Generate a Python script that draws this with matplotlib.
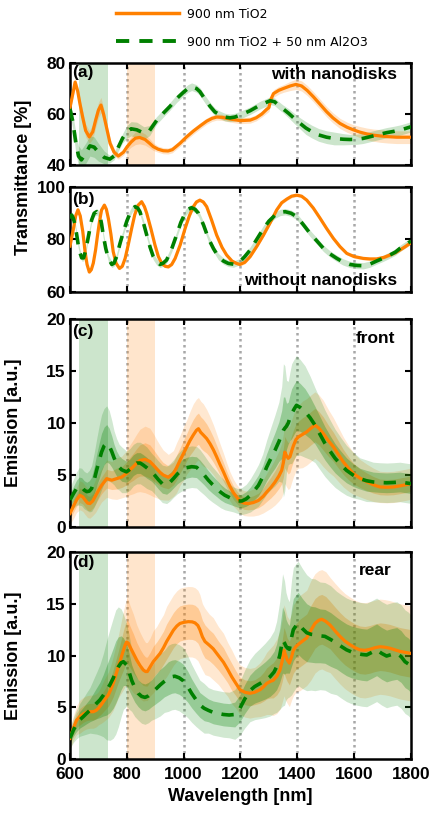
import numpy as np
import matplotlib
matplotlib.use("Agg")
import matplotlib.pyplot as plt
from matplotlib.lines import Line2D

# ---------------- data ----------------
# Panel (a): transmittance with nanodisks
a_or_wl = [600, 610, 618, 627, 635, 645, 655, 668, 680, 690, 700, 709, 718, 728, 741, 755, 770, 788,
           800, 815, 830, 845, 864, 880, 893, 910, 928, 945, 960, 987, 1010, 1034, 1060, 1081, 1100,
           1116, 1135, 1151, 1175, 1200, 1234, 1255, 1275, 1292, 1300, 1306, 1316, 1335, 1351, 1375,
           1395, 1415, 1435, 1456, 1480, 1503, 1525, 1550, 1575, 1597, 1620, 1644, 1668, 1691, 1720,
           1750, 1775, 1800]
a_or_T = [62.5, 68, 72.5, 69, 64, 58.5, 53.5, 51, 53, 57.5, 61.5, 63.5, 60, 55, 48.5, 45, 43.5, 45,
          47, 49, 50.5, 50.8, 50, 48.5, 47.2, 46.2, 45.6, 45.5, 46, 48.5, 51, 53.3, 55.5, 57.2, 58.3,
          58.8, 58.7, 58.3, 57.8, 57.4, 57.6, 58.5, 60, 61.8, 62.5, 65.5, 68, 69.3, 70, 71,
          71.6, 71, 69.2, 66.8, 63.8, 60.9, 58.5, 56.3, 54.8, 53.8, 52.9, 52.2, 51.7, 51.4, 51.1,
          50.9, 50.9, 50.9]
a_or_sd = [1.5, 1.8, 2.0, 2.0, 2.2, 2.5, 2.5, 2.5, 2.8, 3, 3, 3, 2.5, 2, 1.8, 1.5, 1.2, 1.2,
           1.5, 2, 2.5, 2.5, 2.2, 1.8, 1.5, 1.2, 1.2, 1.2, 1.2, 1.2, 1.2, 1.2, 1.2, 1.2, 1.2,
           1.2, 1.2, 1.2, 1.2, 1.2, 1.2, 1.2, 1.2, 1.5, 1.5, 1.5, 1.5, 1.5, 1.5, 1.8,
           2, 2, 2, 2, 2, 2, 2, 2, 2, 2, 2.2, 2.3, 2.4, 2.5, 2.5,
           2.5, 2.5, 2.5]

a_gr_wl = [600, 610, 620, 630, 640, 655, 670, 685, 700, 720, 740, 755, 770, 785, 800, 815, 835, 860,
           880, 905, 930, 952, 975, 999, 1015, 1028, 1045, 1057, 1075, 1093, 1110, 1128, 1145, 1163,
           1180, 1200, 1234, 1269, 1304, 1320, 1333, 1350, 1369, 1390, 1410, 1430, 1451, 1475, 1503,
           1530, 1562, 1585, 1609, 1630, 1656, 1685, 1715, 1740, 1761, 1780, 1800]
a_gr_T = [62, 57, 49, 43.5, 42, 44.5, 47.5, 47, 45, 43, 42.3, 43.5, 47, 50.5, 53, 54.2, 53.8, 52.5,
          53.5, 57.5, 60.5, 63, 66, 68.5, 70, 70.7, 70, 68.8, 65.8, 63, 60.8, 59.6, 58.8, 58.5,
          58.8, 59.6, 61.3, 63.5, 65.2, 64.8, 63.5, 62, 60.3, 58.2, 56.3, 54.5, 53.1, 51.8, 50.9,
          50.4, 50.1, 50, 50.1, 50.4, 51.1, 51.9, 52.7, 53.2, 53.7, 54.3, 55.0]
a_gr_sd = [2, 3, 4, 4, 4, 4, 4, 4, 3.5, 2.5, 1.5, 1.5, 1.5, 1.8, 2.5, 2.8, 3, 2.5,
           2, 1.5, 1.5, 1.5, 1.5, 1.5, 1.5, 1.5, 1.5, 1.5, 1.5, 1.5, 1.5, 1.5, 1.5, 1.5,
           1.5, 1.5, 1.5, 1.5, 1.5, 1.5, 1.5, 1.5, 1.8, 2, 2.2, 2.5, 2.5, 2.5, 2.5,
           2.5, 2.2, 2, 2, 2, 2, 2, 2, 2, 2, 2, 2]

# Panel (b): transmittance without nanodisks
b_or_wl = [600, 612, 620, 628, 636, 645, 653, 660, 668, 675, 682, 690, 697, 704, 711, 721, 728, 735,
           744, 752, 762, 774, 784, 794, 805, 817, 828, 840, 852, 862, 870, 885, 899, 911, 923, 935,
           946, 958, 970, 988, 1005, 1020, 1034, 1045, 1057, 1069, 1081, 1098, 1116, 1135, 1151,
           1170, 1186, 1198, 1215, 1234, 1258, 1281, 1305, 1327, 1345, 1363, 1380, 1398, 1415,
           1433, 1456, 1480, 1503, 1527, 1550, 1574, 1600, 1632, 1655, 1679, 1705, 1726, 1745,
           1761, 1780, 1800]
b_or_T = [77.5, 84, 89, 91.3, 89, 83, 75.4, 70.5, 67.6, 68.5, 71, 76, 81.7, 87, 91.2, 93.1, 91.5, 88,
          82, 75.4, 71, 69.0, 69.8, 72.8, 78, 84.2, 89.5, 93.1, 94.4, 92.5, 90, 84, 77.9, 73.5, 70.9, 69.8,
          69.6, 70.5, 72.8, 78, 84.2, 89, 92.5, 94.3, 95.0, 94.3, 92.5, 87.5, 81.7, 77, 74.1,
          71.8, 70.9, 70.5, 71.3, 73.5, 77.5, 81.7, 86.5, 91.2, 94, 95.4, 96.5, 96.9, 96.5,
          95.0, 92, 88.1, 84.2, 80.4, 77.3, 74.7, 73.5, 72.8, 72.6, 72.6, 73.2, 74.1, 75,
          76.0, 77.3, 78.8]
b_or_sd = [0.6] * len(b_or_wl)

b_gr_wl = [600, 606, 612, 618, 624, 629, 635, 641, 648, 653, 659, 668, 676, 685, 694, 705, 711, 717,
           726, 735, 747, 755, 764, 776, 788, 800, 811, 820, 829, 838, 846, 858, 870, 882, 893, 905,
           917, 928, 940, 958, 975, 990, 1005, 1017, 1028, 1040, 1052, 1070, 1087, 1105, 1122, 1140,
           1157, 1175, 1198, 1215, 1234, 1258, 1281, 1300, 1322, 1340, 1357, 1378, 1398, 1420, 1445,
           1470, 1492, 1515, 1539, 1560, 1585, 1610, 1632, 1655, 1679, 1703, 1726, 1745, 1761,
           1780, 1800]
b_gr_T = [88, 89.3, 88, 85.5, 81.5, 77.9, 75, 73, 73, 75, 77.9, 83, 87.4, 90, 90.6, 89.3, 86, 81.7,
          76.5, 72.8, 70.5, 71, 73.5, 78.5, 83.0, 87, 90.0, 91.8, 92.5, 92, 90.6, 86.5, 81.7, 77, 73.5, 71.5,
          70.5, 71, 72.2, 76.5, 81.7, 86.5, 90.0, 91.6, 92.1, 91.5, 90.0, 85.5, 80.4, 76.5, 73.5, 71.8,
          70.9, 70.6, 71.6, 73.5, 76.0, 80.2, 84.2, 87, 89.3, 90.3, 90.6, 90, 88.7, 85.8, 82.3,
          79.3, 76.6, 74.5, 72.8, 71.5, 70.5, 70.1, 70.0, 70.6, 71.8, 72.9, 74.1, 75.2, 76.6,
          78, 79.4]
b_gr_sd = [1.2] * len(b_gr_wl)

# Panel (c): front emission
c_or_wl = [600, 612, 623, 635, 645, 653, 662, 670, 680, 690, 700, 711, 729, 747, 764, 782, 799, 811,
           823, 835, 846, 864, 881, 895, 905, 917, 928, 946, 964, 975, 987, 1000, 1011, 1022, 1034,
           1045, 1052, 1060, 1069, 1081, 1093, 1105, 1116, 1128, 1140, 1151, 1163, 1175, 1186, 1198,
           1212, 1227, 1245, 1263, 1280, 1292, 1307, 1321, 1335, 1345, 1351, 1356, 1361, 1368, 1374,
           1380, 1386, 1395, 1403, 1418, 1433, 1448, 1462, 1476, 1491, 1509, 1527, 1545, 1562, 1580,
           1597, 1620, 1644, 1668, 1691, 1715, 1738, 1760, 1780, 1800]
c_or_E = [1.3, 2.0, 2.6, 3.05, 2.9, 2.6, 2.3, 2.25, 2.5, 3.0, 3.5, 4.0, 4.65, 4.5, 4.65, 4.8, 5.15, 5.5,
          5.8, 6.15, 6.4, 6.5, 6.3, 5.9, 5.6, 5.25, 5.0, 4.78, 5.15, 5.7, 6.4, 7.1, 7.7, 8.3, 8.85,
          9.3, 9.45, 9.1, 8.85, 8.5, 8.0, 7.4, 6.75, 6.0, 5.3, 4.6, 3.9, 3.3, 2.9, 2.5,
          2.3, 2.25, 2.35, 2.55, 2.95, 3.35, 3.8, 4.3, 4.9, 5.45, 6.2, 7.2, 6.9, 6.6, 6.75,
          7.3, 7.8, 8.4, 8.65, 8.9, 9.15, 9.5, 9.8, 9.5, 9.0, 8.3, 7.7, 6.95, 6.25, 5.65,
          5.15, 4.7, 4.35, 4.05, 3.85, 3.82, 3.85, 3.95, 4.05, 4.17]
c_or_sd = [0.5, 0.6, 0.6, 0.7, 0.7, 0.7, 0.7, 0.7, 0.7, 0.8, 0.8, 0.8, 0.9, 0.9, 1.0, 1.0, 1.1, 1.2,
           1.3, 1.4, 1.5, 1.6, 1.6, 1.5, 1.4, 1.3, 1.2, 1.1, 1.1, 1.2, 1.2, 1.3, 1.3, 1.4, 1.5,
           1.5, 1.5, 1.5, 1.5, 1.4, 1.3, 1.2, 1.1, 1.0, 0.9, 0.8, 0.7, 0.65, 0.6, 0.6,
           0.6, 0.6, 0.65, 0.7, 0.8, 0.9, 1.0, 1.1, 1.2, 1.3, 1.4, 1.5, 1.5, 1.5, 1.5,
           1.5, 1.5, 1.5, 1.5, 1.6, 1.6, 1.6, 1.6, 1.6, 1.6, 1.5, 1.4, 1.3, 1.2, 1.1,
           1.0, 0.9, 0.85, 0.8, 0.75, 0.75, 0.75, 0.75, 0.75, 0.75]

c_gr_wl = [600, 612, 623, 632, 641, 650, 659, 668, 676, 685, 694, 703, 711, 720, 729, 738, 747, 755,
           764, 773, 782, 799, 811, 823, 835, 847, 858, 870, 887, 899, 911, 925, 940, 952, 964, 978,
           993, 1010, 1028, 1045, 1057, 1072, 1087, 1101, 1116, 1130, 1145, 1160, 1175, 1190, 1205,
           1220, 1235, 1250, 1263, 1278, 1292, 1307, 1321, 1335, 1345, 1351, 1356, 1362, 1368, 1374,
           1380, 1390, 1397, 1410, 1427, 1445, 1462, 1480, 1497, 1515, 1533, 1553, 1573, 1596,
           1620, 1643, 1667, 1690, 1714, 1738, 1761, 1780, 1800]
c_gr_E = [2.6, 3.2, 3.7, 3.9, 3.85, 3.55, 3.4, 3.45, 3.7, 4.5, 5.5, 6.4, 7.2, 7.8, 8.05, 7.8, 7.25, 6.65,
          6.1, 5.75, 5.5, 5.3, 5.55, 5.95, 6.15, 6.15, 5.95, 5.7, 5.3, 4.95, 4.55, 4.15, 4.05, 4.3, 4.65, 5.1,
          5.45, 5.7, 5.8, 5.75, 5.45, 5.0, 4.5, 4.1, 3.72, 3.35, 3.05, 2.85, 2.65, 2.5, 2.5,
          2.7, 3.05, 3.55, 4.0, 4.8, 5.75, 6.6, 7.35, 8.2, 8.9, 9.3, 9.5, 9.7, 10.0, 10.5,
          10.9, 11.4, 11.7, 11.5, 11.1, 10.5, 9.8, 8.9, 8.05, 7.3, 6.6, 6.0, 5.45, 5.0,
          4.65, 4.45, 4.33, 4.28, 4.25, 4.28, 4.33, 4.25, 4.17]
c_gr_sd = [0.6, 0.7, 0.8, 0.9, 0.9, 0.9, 0.9, 1.0, 1.1, 1.3, 1.5, 1.7, 1.8, 1.8, 1.8, 1.7, 1.5, 1.3,
           1.2, 1.1, 1.1, 1.0, 1.0, 1.0, 1.0, 1.0, 1.0, 1.0, 0.9, 0.9, 0.9, 0.9, 0.9, 0.9, 0.9, 0.95,
           1.0, 1.0, 1.0, 1.0, 1.0, 0.95, 0.9, 0.85, 0.8, 0.75, 0.7, 0.65, 0.6, 0.6, 0.65,
           0.7, 0.8, 0.9, 1.0, 1.1, 1.3, 1.5, 1.7, 1.9, 2.3, 3.2, 3.0, 2.2, 2.0, 2.2,
           2.4, 2.4, 2.4, 2.3, 2.2, 2.0, 1.8, 1.7, 1.6, 1.5, 1.4, 1.3, 1.2, 1.1,
           1.0, 1.0, 0.95, 0.95, 0.95, 0.95, 0.95, 0.95, 0.95]

# Panel (d): rear emission
d_or_wl = [600, 612, 623, 635, 647, 658, 670, 682, 692, 700, 710, 720, 735, 745, 752, 761, 770, 779,
           788, 794, 799, 805, 811, 823, 835, 847, 858, 866, 872, 882, 893, 905, 917, 929, 940, 952,
           964, 976, 987, 1000, 1016, 1030, 1040, 1050, 1057, 1066, 1075, 1090, 1104, 1122, 1140,
           1155, 1169, 1184, 1198, 1215, 1233, 1250, 1269, 1282, 1292, 1305, 1315, 1328, 1339, 1347,
           1353, 1358, 1364, 1372, 1380, 1386, 1396, 1409, 1421, 1433, 1447, 1462, 1475, 1486, 1500,
           1515, 1532, 1550, 1567, 1585, 1603, 1620, 1638, 1656, 1673, 1691, 1708, 1726, 1743, 1761,
           1780, 1800]
d_or_E = [2.0, 3.0, 3.75, 4.1, 4.35, 4.5, 4.57, 4.57, 4.7, 4.9, 5.25, 5.65, 6.2, 6.8, 7.3, 8.1, 8.9, 9.7,
          10.5, 11.0, 11.3, 11.2, 10.85, 10.2, 9.55, 9.0, 8.6, 8.45, 8.45, 8.9, 9.4, 9.8, 10.2, 10.75, 11.35, 11.9,
          12.45, 12.85, 13.1, 13.2, 13.27, 13.25, 13.15, 12.9, 12.5, 11.8, 11.35, 11.0, 10.65, 10.0, 9.35,
          8.65, 7.95, 7.3, 6.7, 6.45, 6.35, 6.45, 6.7, 7.0, 7.3, 7.5, 7.6, 8.0, 8.6, 9.5,
          10.5, 10.1, 9.6, 9.26, 9.9, 10.5, 10.9, 11.2, 11.45, 11.7, 12.4, 13.1, 13.4, 13.5, 13.3,
          12.95, 12.4, 11.85, 11.4, 11.05, 10.75, 10.55, 10.5, 10.6, 10.75, 10.85, 10.8, 10.7, 10.55, 10.4,
          10.3, 10.2]
d_or_sd = [0.5, 0.6, 0.7, 0.8, 0.8, 0.8, 0.8, 0.8, 0.8, 0.8, 0.9, 1.0, 1.1, 1.2, 1.3, 1.4, 1.5, 1.7,
           1.9, 2.0, 2.1, 2.1, 2.0, 1.9, 1.7, 1.6, 1.5, 1.4, 1.4, 1.4, 1.5, 1.5, 1.6, 1.6, 1.7, 1.7,
           1.7, 1.7, 1.7, 1.7, 1.7, 1.7, 1.7, 1.7, 1.7, 1.6, 1.6, 1.5, 1.5, 1.4, 1.4,
           1.3, 1.3, 1.2, 1.2, 1.2, 1.2, 1.2, 1.3, 1.4, 1.5, 1.6, 1.7, 1.8, 1.9, 2.0,
           2.2, 2.2, 2.1, 2.1, 2.1, 2.2, 2.2, 2.3, 2.3, 2.3, 2.4, 2.4, 2.4, 2.4, 2.4,
           2.3, 2.3, 2.3, 2.3, 2.3, 2.3, 2.3, 2.3, 2.3, 2.3, 2.3, 2.3, 2.3, 2.3, 2.3,
           2.3, 2.3]

d_gr_wl = [600, 612, 623, 635, 647, 658, 670, 682, 694, 705, 717, 729, 741, 752, 761, 770, 780, 788,
           799, 808, 817, 828, 840, 852, 864, 876, 887, 900, 917, 932, 946, 958, 969, 984, 999, 1014,
           1028, 1043, 1057, 1072, 1087, 1104, 1122, 1140, 1160, 1180, 1198, 1215, 1233, 1250, 1269,
           1287, 1304, 1318, 1327, 1338, 1348, 1355, 1360, 1366, 1372, 1380, 1386, 1396, 1403, 1418,
           1433, 1448, 1462, 1480, 1497, 1517, 1538, 1556, 1573, 1590, 1609, 1627, 1644, 1662, 1679,
           1697, 1714, 1732, 1750, 1765, 1779, 1790, 1800]
d_gr_E = [2.0, 2.8, 3.35, 3.8, 4.1, 4.4, 4.7, 5.05, 5.4, 5.7, 6.15, 6.65, 7.2, 7.8, 8.4, 8.9, 9.3, 9.4,
          9.1, 8.4, 7.6, 6.9, 6.35, 6.05, 5.95, 6.1, 6.35, 6.7, 7.15, 7.5, 7.8, 7.95, 8.0, 7.85, 7.55, 7.0,
          6.35, 5.75, 5.22, 4.9, 4.7, 4.5, 4.4, 4.3, 4.25, 4.3, 4.9, 5.8, 6.6, 7.0, 7.3,
          7.6, 7.95, 8.4, 8.9, 10.0, 11.5, 11.2, 10.9, 10.7, 10.6, 11.8, 12.5, 12.9, 13.1, 12.6,
          12.2, 12.05, 12.0, 11.9, 11.85, 11.55, 11.2, 10.85, 10.55, 10.35, 10.2, 10.1, 10.05, 10.3, 10.55,
          10.2, 9.95, 10.1, 10.2, 9.9, 9.4, 9.2, 8.9]
d_gr_sd = [0.5, 0.6, 0.7, 0.8, 0.9, 1.0, 1.1, 1.3, 1.5, 1.7, 2.0, 2.4, 2.7, 2.9, 3.0, 2.9, 2.6, 2.3,
           2.0, 1.8, 1.5, 1.4, 1.3, 1.3, 1.3, 1.3, 1.3, 1.4, 1.5, 1.5, 1.6, 1.6, 1.6, 1.6, 1.6, 1.5,
           1.4, 1.3, 1.2, 1.2, 1.1, 1.1, 1.1, 1.1, 1.1, 1.2, 1.3, 1.4, 1.5, 1.6, 1.7,
           1.8, 1.9, 2.0, 2.2, 2.6, 3.2, 3.0, 2.6, 2.4, 2.3, 2.8, 3.0, 3.0, 3.0, 2.9,
           2.8, 2.7, 2.7, 2.6, 2.6, 2.6, 2.5, 2.5, 2.5, 2.5, 2.5, 2.5, 2.5, 2.5, 2.5,
           2.5, 2.5, 2.5, 2.5, 2.5, 2.5, 2.5, 2.5]

# shaded excitation regions (nm)
green_region = [630, 735]
orange_region = [802, 900]

labels = ["900 nm TiO2", "900 nm TiO2 + 50 nm Al2O3"]
x_ticks = [600, 800, 1000, 1200, 1400, 1600, 1800]

# ---------------- style ----------------
ORANGE = "#FF8000"
GREEN = "#008000"
BOLD = dict(family=["Liberation Sans", "DejaVu Sans"], weight="bold")
DASH = (0, (3.4, 2.6))

W, H = 435, 818
fig = plt.figure(figsize=(W / 100, H / 100), dpi=100)


def px_axes(top, bottom, left=70, right=411):
    return fig.add_axes([left / W, 1 - bottom / H, (right - left) / W, (bottom - top) / H])


ax_a = px_axes(63, 165)
ax_b = px_axes(187, 292)
ax_c = px_axes(319, 527)
ax_d = px_axes(552, 759)


def style(ax, ylim, yticks, show_x):
    ax.set_xlim(600, 1800)
    ax.set_ylim(*ylim)
    ax.set_xticks(x_ticks)
    ax.set_yticks(yticks)
    ax.tick_params(direction="in", length=4, width=1.5, top=True, right=True,
                   labelsize=12.5, pad=3)
    ax.tick_params(axis="x", pad=6)
    for lab in ax.get_xticklabels() + ax.get_yticklabels():
        lab.set_fontfamily(BOLD["family"])
        lab.set_fontweight("bold")
    if not show_x:
        ax.set_xticklabels([])
    for s in ax.spines.values():
        s.set_linewidth(1.8)
    for xv in x_ticks[1:-1]:
        ax.axvline(xv, color="#a8a8a8", lw=1.8, ls=(0, (1, 1.4)), zorder=1)


def band1(ax, wl, m, sd, color, alpha):
    wl, m, sd = np.array(wl), np.array(m), np.array(sd)
    ax.fill_between(wl, m - sd, m + sd, color=color, alpha=alpha, lw=0, zorder=2)


def band2(ax, wl, m, sd, color):
    wl, m, sd = np.array(wl), np.array(m), np.array(sd)
    ax.fill_between(wl, m - 2 * sd, m + 2 * sd, color=color, alpha=0.18, lw=0, zorder=2)
    ax.fill_between(wl, m - sd, m + sd, color=color, alpha=0.28, lw=0, zorder=2)


def regions(ax):
    ax.axvspan(*green_region, color=GREEN, alpha=0.2, lw=0, zorder=1.5)
    ax.axvspan(*orange_region, color=ORANGE, alpha=0.2, lw=0, zorder=1.5)


def lines(ax, wo, mo, wg, mg):
    ax.plot(wo, mo, color=ORANGE, lw=2.3, zorder=4)
    ax.plot(wg, mg, color=GREEN, lw=2.6, ls=DASH, zorder=5)


# (a)
regions(ax_a)
band1(ax_a, a_or_wl, a_or_T, a_or_sd, ORANGE, 0.22)
band1(ax_a, a_gr_wl, a_gr_T, a_gr_sd, GREEN, 0.2)
lines(ax_a, a_or_wl, a_or_T, a_gr_wl, a_gr_T)
style(ax_a, (40, 80), [40, 60, 80], False)

# (b)
band1(ax_b, b_or_wl, b_or_T, b_or_sd, ORANGE, 0.22)
band1(ax_b, b_gr_wl, b_gr_T, b_gr_sd, GREEN, 0.2)
lines(ax_b, b_or_wl, b_or_T, b_gr_wl, b_gr_T)
style(ax_b, (60, 100), [60, 80, 100], False)

# (c)
regions(ax_c)
band2(ax_c, c_or_wl, c_or_E, c_or_sd, ORANGE)
band2(ax_c, c_gr_wl, c_gr_E, c_gr_sd, GREEN)
lines(ax_c, c_or_wl, c_or_E, c_gr_wl, c_gr_E)
style(ax_c, (0, 20), [0, 5, 10, 15, 20], False)

# (d)
regions(ax_d)
band2(ax_d, d_or_wl, d_or_E, d_or_sd, ORANGE)
band2(ax_d, d_gr_wl, d_gr_E, d_gr_sd, GREEN)
lines(ax_d, d_or_wl, d_or_E, d_gr_wl, d_gr_E)
style(ax_d, (0, 20), [0, 5, 10, 15, 20], True)

# labels
ax_d.set_xlabel("Wavelength [nm]", fontsize=13, labelpad=4, **BOLD)
for ax in (ax_c, ax_d):
    ax.set_ylabel("Emission [a.u.]", fontsize=13, **BOLD)
    ax.yaxis.set_label_coords(-0.141, 0.5)
fig.text(24 / W, 1 - 177 / H, "Transmittance [%]", rotation=90, ha="center", va="center",
         fontsize=13, **BOLD)

TXT = dict(fontsize=12.5, zorder=6, **BOLD)
ax_a.text(0.006, 0.985, "(a)", transform=ax_a.transAxes, ha="left", va="top", **TXT)
ax_a.text(0.96, 0.965, "with nanodisks", transform=ax_a.transAxes, ha="right", va="top", **TXT)
ax_b.text(0.006, 0.95, "(b)", transform=ax_b.transAxes, ha="left", va="top", **TXT)
ax_b.text(0.96, 0.07, "without nanodisks", transform=ax_b.transAxes, ha="right", va="baseline", **TXT)
ax_c.text(0.006, 0.975, "(c)", transform=ax_c.transAxes, ha="left", va="top", **TXT)
ax_c.text(0.953, 0.94, "front", transform=ax_c.transAxes, ha="right", va="top", **TXT)
ax_d.text(0.006, 0.985, "(d)", transform=ax_d.transAxes, ha="left", va="top", **TXT)
ax_d.text(0.944, 0.945, "rear", transform=ax_d.transAxes, ha="right", va="top", **TXT)

# legend
handles = [Line2D([], [], color=ORANGE, lw=2.5),
           Line2D([], [], color=GREEN, lw=2.8, ls=DASH)]
fig.legend(handles, labels, loc="center left", bbox_to_anchor=(110 / W, 1 - 28 / H),
           frameon=False, borderpad=0, handlelength=5.0, handletextpad=0.65,
           labelspacing=1.2, prop=dict(family="DejaVu Sans", size=9))

fig.savefig("out.png", dpi=100)
